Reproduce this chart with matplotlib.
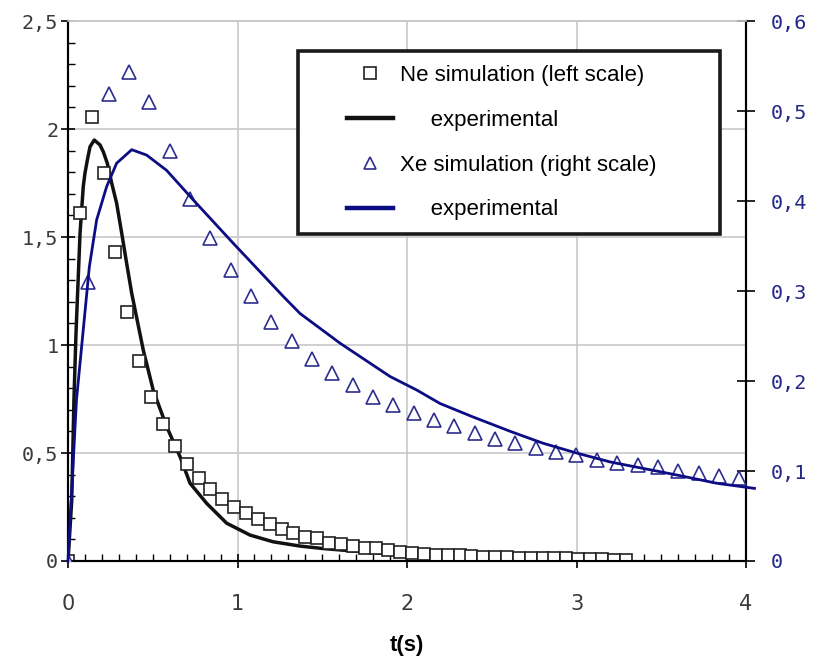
import matplotlib
matplotlib.use("Agg")
import matplotlib.pyplot as plt
import numpy as np
from matplotlib.lines import Line2D
from matplotlib.patches import Rectangle
from matplotlib.ticker import FixedLocator, MultipleLocator

# ---------------- data ----------------
ne_sim_t = [round(0.07 * k, 2) for k in range(48)]
ne_sim_y = [0, 1.613, 2.057, 1.795, 1.432, 1.151, 0.926, 0.758, 0.634, 0.532,
            0.448, 0.386, 0.335, 0.288, 0.250, 0.221, 0.196, 0.171, 0.150, 0.128,
            0.110, 0.105, 0.085, 0.079, 0.068, 0.060, 0.058, 0.050, 0.042, 0.036,
            0.034, 0.030, 0.028, 0.026, 0.022, 0.020, 0.020, 0.018, 0.016, 0.015,
            0.014, 0.013, 0.012, 0.011, 0.010, 0.010, 0.006, 0.006]

ne_exp_t = [0, 0.022, 0.035, 0.047, 0.055, 0.071, 0.090, 0.100, 0.114, 0.130, 0.155,
            0.189, 0.208, 0.232, 0.258, 0.287, 0.317, 0.346, 0.376, 0.444, 0.503,
            0.582, 0.661, 0.72, 0.818, 0.936, 1.074, 1.21, 1.37, 1.5, 1.75, 2.0,
            2.25, 2.5, 2.75, 3.0, 3.3]
ne_exp_y = [0, 0.28, 0.745, 1.05, 1.208, 1.517, 1.733, 1.795, 1.856, 1.918, 1.949,
            1.926, 1.895, 1.841, 1.749, 1.656, 1.517, 1.378, 1.239, 0.977, 0.79,
            0.622, 0.483, 0.36, 0.267, 0.175, 0.12, 0.089, 0.069, 0.058, 0.042, 0.028,
            0.022, 0.020, 0.020, 0.020, 0.020]

xe_sim_t = [round(0.12 * k, 2) for k in range(34)]
xe_sim_y = [0, 0.310, 0.519, 0.543, 0.510, 0.456, 0.402, 0.359, 0.323, 0.294,
            0.266, 0.244, 0.225, 0.2085, 0.1956, 0.1826, 0.173, 0.164, 0.157, 0.150,
            0.142, 0.136, 0.131, 0.126, 0.1215, 0.118, 0.112, 0.1085, 0.1067, 0.104,
            0.100, 0.0974, 0.0944, 0.0918]

xe_exp_t = [0, 0.05, 0.107, 0.126, 0.169, 0.228, 0.287, 0.376, 0.464, 0.582, 0.74,
            0.975, 1.27, 1.369, 1.605, 1.9, 2.057, 2.195, 2.39, 2.61, 2.8, 3.0, 3.2,
            3.39, 3.59, 3.83, 4.05]
xe_exp_y = [0, 0.179, 0.29, 0.327, 0.379, 0.416, 0.442, 0.457, 0.451, 0.434, 0.401,
            0.353, 0.294, 0.275, 0.242, 0.205, 0.19, 0.175, 0.16, 0.144, 0.131, 0.12,
            0.11, 0.103, 0.0956, 0.0863, 0.0807]

x_ticks = [0, 1, 2, 3, 4]
x_labels = ["0", "1", "2", "3", "4"]
left_ticks = [0, 0.5, 1, 1.5, 2, 2.5]
left_labels = ["0", "0,5", "1", "1,5", "2", "2,5"]
right_ticks = [0, 0.1, 0.2, 0.3, 0.4, 0.5, 0.6]
right_labels = ["0", "0,1", "0,2", "0,3", "0,4", "0,5", "0,6"]

legend_labels = ["Ne simulation (left scale)", "     experimental",
                 "Xe simulation (right scale)", "     experimental"]
x_title = "t(s)"

# ---------------- style ----------------
W, H = 817, 658
fig = plt.figure(figsize=(W / 100, H / 100), dpi=100)
L, R, T, B = 68, 746, 21, 561
ax = fig.add_axes([L / W, 1 - B / H, (R - L) / W, (B - T) / H])
ax2 = ax.twinx()

navy = "#0c0c84"
tri_col = "#2e2e8e"
lab_dark = "#3a3a3a"
lab_blue = "#25258a"
mono = ["DejaVu Sans Mono"]

ax.set_xlim(0, 4)
ax.set_ylim(0, 2.5)
ax2.set_ylim(0, 0.6)

ax.set_xticks(x_ticks)
ax.set_xticklabels(x_labels, family=["Liberation Sans Narrow", "DejaVu Sans"],
                   fontsize=15, color=lab_dark)
ax.xaxis.set_minor_locator(MultipleLocator(0.1))
ax.set_yticks(left_ticks)
ax.set_yticklabels(left_labels, family=mono, fontsize=14.5, color=lab_dark)
ax.yaxis.set_minor_locator(MultipleLocator(0.1))
ax2.set_yticks(right_ticks)
ax2.set_yticklabels(right_labels, family=mono, fontsize=14.5, color=lab_blue)

ax.tick_params(axis="x", which="major", direction="inout", length=10, width=1.2, pad=19)
ax.tick_params(axis="x", which="minor", direction="in", length=5, width=1.0)
ax.tick_params(axis="y", which="major", direction="inout", length=10, width=1.2, pad=2)
ax.tick_params(axis="y", which="minor", direction="in", length=5, width=1.0)
ax2.tick_params(axis="y", which="major", direction="inout", length=13, width=1.2, pad=11)
ax2.tick_params(axis="y", which="minor", length=0)

ax.grid(True, which="major", color="#c8c8c8", linewidth=1.2)
for a in (ax, ax2):
    a.spines["top"].set_color("#c8c8c8")
    a.spines["top"].set_linewidth(1.2)
    a.spines["left"].set_linewidth(1.5)
    a.spines["bottom"].set_linewidth(1.5)
    a.spines["right"].set_linewidth(1.5)
ax.set_axisbelow(True)

# curves
ax.plot(ne_exp_t, ne_exp_y, color="#111111", linewidth=2.5, zorder=3,
        solid_joinstyle="round")
ax.plot(ne_sim_t, ne_sim_y, linestyle="none", marker="s", markersize=9,
        markerfacecolor="white", markeredgecolor="#222222", markeredgewidth=1.2, zorder=4)
ax2.plot(xe_sim_t, xe_sim_y, linestyle="none", marker="^", markersize=10,
         markerfacecolor="white", markeredgecolor=tri_col, markeredgewidth=1.2, zorder=3)
ax2.plot(xe_exp_t, xe_exp_y, color=navy, linewidth=2.0, zorder=4, clip_on=False,
         solid_joinstyle="round")

ax.xaxis.set_label_coords(0.5, -0.137)
ax.set_xlabel(x_title, fontsize=16, fontweight="bold",
              family=["Liberation Sans", "DejaVu Sans"])

# legend
handles = [
    Line2D([], [], linestyle="none", marker="s", markersize=9,
           markerfacecolor="white", markeredgecolor="#222222", markeredgewidth=1.2),
    Line2D([], [], color="#111111", linewidth=3.2),
    Line2D([], [], linestyle="none", marker="^", markersize=9,
           markerfacecolor="white", markeredgecolor=tri_col, markeredgewidth=1.2),
    Line2D([], [], color=navy, linewidth=3.2),
]
leg = fig.legend(handles, legend_labels, loc="upper left",
                 bbox_to_anchor=(347 / W, 1 - 65 / H), frameon=False,
                 prop={"family": ["Liberation Sans", "DejaVu Sans"], "size": 16},
                 handlelength=2.07, handletextpad=0.32, labelspacing=1.07, borderpad=0,
                 borderaxespad=0)
fig.add_artist(Rectangle((298 / W, 1 - 234 / H), (720 - 298) / W, (234 - 51) / H,
                         transform=fig.transFigure, fill=True, facecolor="white",
                         edgecolor="#1a1a1a", linewidth=2.6, zorder=2))
leg.set_zorder(5)

fig.savefig("out.png", dpi=100)
